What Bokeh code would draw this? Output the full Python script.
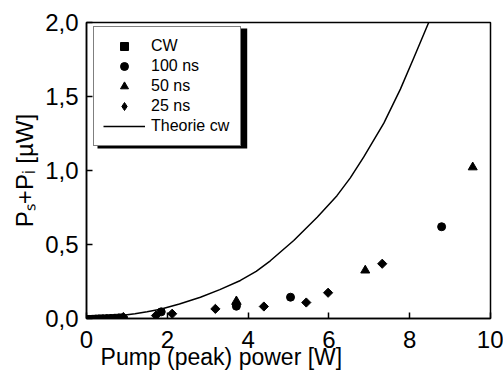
import math
from bokeh.plotting import figure
from bokeh.models import (Range1d, FixedTicker, CustomJSTickFormatter, Legend, LegendItem,
                          BoxAnnotation)
from bokeh.embed import file_html
from bokeh.resources import INLINE

# ---- data ----
cw_x = [0.05, 0.12, 0.2, 0.28, 0.36, 0.45, 0.55, 0.65, 0.75, 0.85]
cw_y = [0.0, 0.0, 0.001, 0.002, 0.003, 0.004, 0.005, 0.006, 0.008, 0.01]

ns100_x = [1.85, 3.71, 5.05, 8.79]
ns100_y = [0.045, 0.083, 0.144, 0.62]

ns50_x = [3.71, 6.9, 9.56]
ns50_y = [0.117, 0.325, 1.022]

ns25_x = [0.91, 1.72, 2.12, 3.19, 3.71, 4.39, 5.44, 5.98, 7.32]
ns25_y = [0.01, 0.02, 0.032, 0.065, 0.095, 0.081, 0.108, 0.174, 0.37]

theory_x = [0.0, 0.5, 0.91, 1.2, 1.5, 1.83, 2.3, 2.82, 3.3, 3.81, 4.2, 4.55, 5.13, 5.71, 6.2,
            6.53, 6.86, 7.36, 7.77, 8.1, 8.47]
theory_y = [0.0, 0.007, 0.022, 0.032, 0.045, 0.062, 0.098, 0.144, 0.195, 0.257, 0.318, 0.39,
            0.527, 0.684, 0.83, 0.95, 1.09, 1.32, 1.55, 1.76, 2.0]

x_ticks = [0, 2, 4, 6, 8, 10]
y_ticks = [0.0, 0.5, 1.0, 1.5, 2.0]

FONT = "Liberation Sans"

p = figure(width=503, height=376, output_backend="svg", toolbar_location=None,
           x_range=Range1d(0, 10), y_range=Range1d(0, 2),
           min_border_left=86, min_border_right=13, min_border_top=22, min_border_bottom=58)

p.background_fill_color = "white"
p.border_fill_color = "white"
p.outline_line_color = "black"
p.outline_line_width = 1.5
p.xgrid.visible = False
p.ygrid.visible = False

for ax in (p.xaxis[0], p.yaxis[0]):
    ax.axis_line_width = 1.5
    ax.axis_line_color = "black"
    ax.major_tick_in = 6
    ax.major_tick_out = 0
    ax.major_tick_line_width = 1.5
    ax.minor_tick_line_color = None
    ax.major_label_text_font = FONT
    ax.major_label_text_font_size = "24px"
    ax.major_label_text_color = "black"
    ax.axis_label_text_font = FONT
    ax.axis_label_text_font_size = "23px"
    ax.axis_label_text_font_style = "normal"
    ax.axis_label_text_color = "black"

p.xaxis.ticker = FixedTicker(ticks=x_ticks)
p.yaxis.ticker = FixedTicker(ticks=y_ticks)
p.yaxis.formatter = CustomJSTickFormatter(code="return tick.toFixed(1).replace('.', ',');")
p.xaxis.major_label_standoff = 12
p.yaxis.major_label_standoff = 8
p.yaxis.axis_label = "P\u209b+P\u1d62 [\u00b5W]"
p.yaxis.axis_label_text_font_size = "24px"
p.yaxis.axis_label_standoff = 4
# x label sits left of centre in the reference: pad with non-breaking spaces
p.xaxis.axis_label = "Pump (peak) power [W]" + "\u00a0" * 21
p.xaxis.axis_label_standoff = -7

# data
r_line = p.line(theory_x, theory_y, line_color="black", line_width=1.5)
r_cw = p.scatter(cw_x, cw_y, marker="square", size=6, color="black")
r_100 = p.scatter(ns100_x, ns100_y, marker="circle", size=8, color="black")
r_50 = p.scatter(ns50_x, ns50_y, marker="triangle", size=9, color="black")
r_25 = p.scatter(ns25_x, ns25_y, marker="square", size=6.5, angle=math.pi / 4, color="black")
# legend swatch for the 25 ns series (hidden renderer, shown only in the legend)
r_25_key = p.scatter(ns25_x[:1], ns25_y[:1], marker="diamond", size=17, color="black",
                     visible=False)

# legend shadow
p.add_layout(BoxAnnotation(left=0.272, right=3.978, bottom=1.149, top=1.959,
                           fill_color="black", fill_alpha=1.0, line_color=None))

legend = Legend(items=[
    LegendItem(label="CW", renderers=[r_cw]),
    LegendItem(label="100 ns", renderers=[r_100]),
    LegendItem(label="50 ns", renderers=[r_50]),
    LegendItem(label="25 ns", renderers=[r_25_key]),
    LegendItem(label="Theorie cw", renderers=[r_line]),
], location=(7, 172), padding=9, spacing=0, margin=0,
    label_height=20, glyph_height=20, glyph_width=42, label_standoff=6, label_width=80,
    label_text_font=FONT, label_text_font_size="16px", label_text_color="black",
    border_line_color="black", border_line_width=1, background_fill_color="white",
    background_fill_alpha=1.0, inactive_fill_alpha=0.0)
p.add_layout(legend, "center")

open("out.html", "w").write(file_html(p, INLINE))
